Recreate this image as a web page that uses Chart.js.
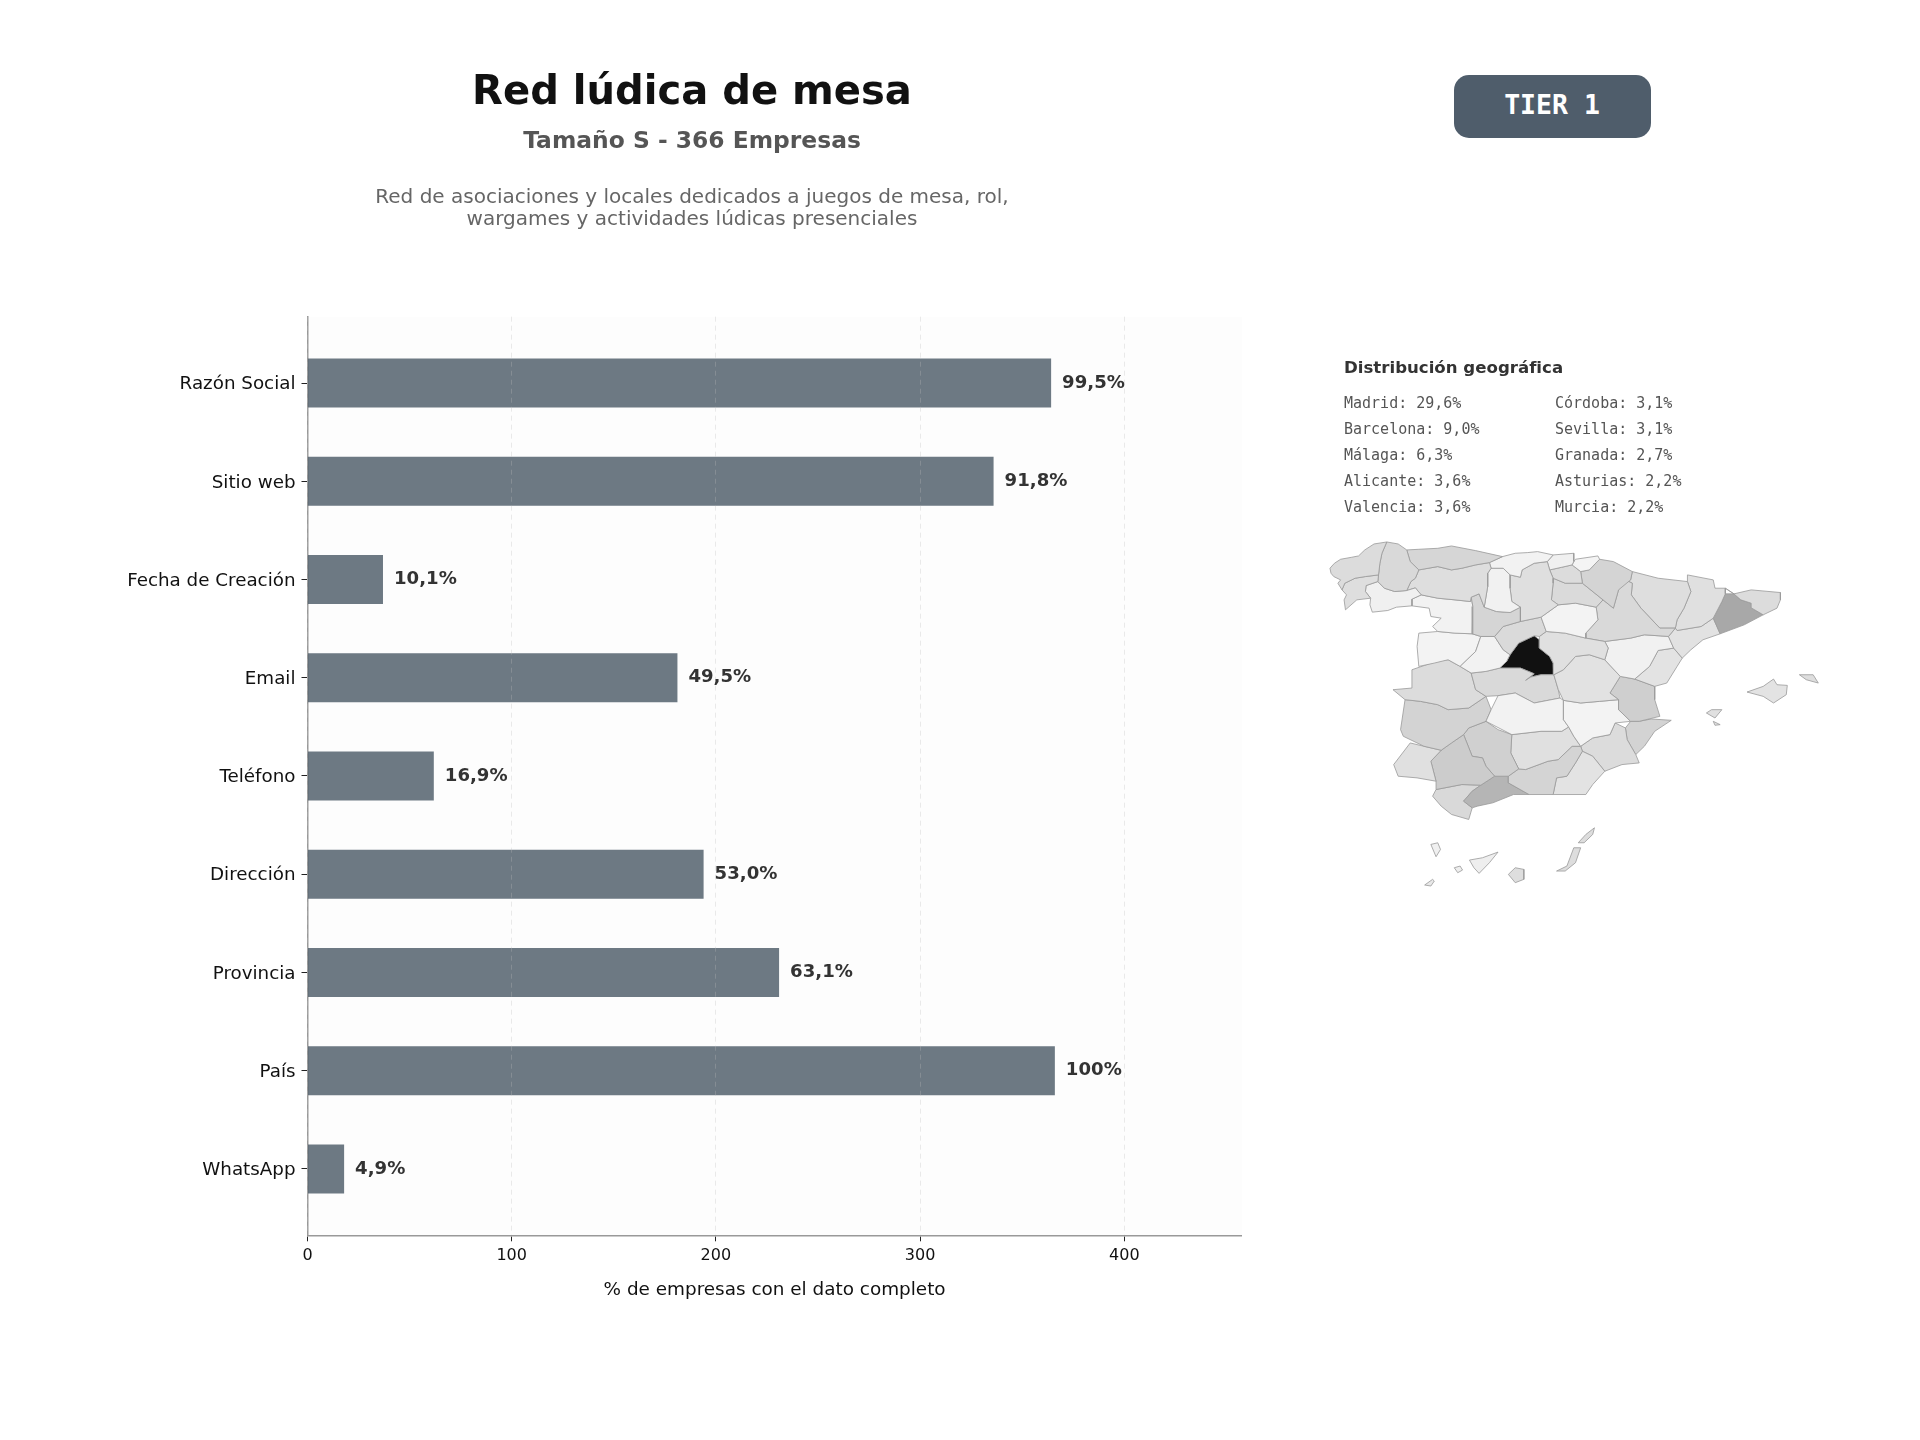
<!DOCTYPE html>
<html lang="es">
<head>
<meta charset="utf-8">
<title>Red lúdica de mesa</title>
<script src="https://cdn.jsdelivr.net/npm/chart.js@4"></script>
<style>
    html, body { margin: 0; padding: 0; background: #fff; }
    body { position: relative; width: 1920px; height: 1440px; overflow: hidden; font-family: "DejaVu Sans", sans-serif; }
    canvas { position: absolute; }
    .centered { position: absolute; white-space: nowrap; line-height: 1; transform: translate(-50%, -50%); }
    .left { position: absolute; white-space: nowrap; line-height: 1; transform: translateY(-50%); }
    #title { left: 692px; top: 90px; font-size: 40.1px; font-weight: bold; color: #111; }
    #subtitle { left: 692px; top: 141px; font-size: 23.4px; font-weight: bold; color: #555; }
    .description { left: 692px; font-size: 20px; color: #666; }
    #badge { position: absolute; left: 1453.5px; top: 75px; width: 197px; height: 63px; border-radius: 15px; background: #4f5d6b; }
    #badgeText { left: 1552px; top: 105px; font-family: "DejaVu Sans Mono", monospace; font-weight: bold; font-size: 26.5px; color: #fff; }
    #geoTitle { left: 1344px; top: 368px; font-size: 16.6px; font-weight: bold; color: #333; }
    .geoRow { font-family: "DejaVu Sans Mono", monospace; font-size: 15px; color: #555; }
    #barChart { left: 0; top: 0; }
    #mapChart { left: 1300px; top: 520px; }
</style>
</head>
<body>
<canvas id="barChart" width="1920" height="1440"></canvas>
<canvas id="mapChart" width="540" height="380"></canvas>
<div id="title" class="centered">Red lúdica de mesa</div>
<div id="subtitle" class="centered">Tamaño S - 366 Empresas</div>
<div class="centered description" style="top:195.5px">Red de asociaciones y locales dedicados a juegos de mesa, rol,</div>
<div class="centered description" style="top:218px">wargames y actividades lúdicas presenciales</div>
<div id="badge"></div>
<div id="badgeText" class="centered">TIER 1</div>
<div id="geoTitle" class="left">Distribución geográfica</div>
<script>
// Field completeness for the 366 companies
var totalCompanies = 366;
var fieldNames = ['Razón Social', 'Sitio web', 'Fecha de Creación', 'Email', 'Teléfono', 'Dirección', 'Provincia', 'País', 'WhatsApp'];
var fieldPercents = [99.5, 91.8, 10.1, 49.5, 16.9, 53.0, 63.1, 100, 4.9];
var xTicks = [0, 100, 200, 300, 400];

// Top provinces, two columns
var geoLeft = ['Madrid: 29,6%', 'Barcelona: 9,0%', 'Málaga: 6,3%', 'Alicante: 3,6%', 'Valencia: 3,6%'];
var geoRight = ['Córdoba: 3,1%', 'Sevilla: 3,1%', 'Granada: 2,7%', 'Asturias: 2,2%', 'Murcia: 2,2%'];

// Province outlines in map units, and the grey each one is shaded with
var provinceNames = ['Coruña', 'Pontevedra', 'Lugo', 'Ourense', 'Asturias', 'León', 'Cantabria', 'Palencia', 'Valladolid', 'Zamora', 'Burgos', 'Bizkaia', 'Gipuzkoa', 'Álava', 'Navarra', 'La Rioja', 'Soria', 'Segovia', 'Ávila', 'Salamanca', 'Guadalajara', 'Zaragoza', 'Huesca', 'Lleida', 'Girona', 'Barcelona', 'Tarragona', 'Teruel', 'Castellón', 'Cuenca', 'Valencia', 'Albacete', 'Ciudad Real', 'Toledo', 'Cáceres', 'Badajoz', 'Huelva', 'Sevilla', 'Córdoba', 'Jaén', 'Granada', 'Almería', 'Murcia', 'Alicante', 'Málaga', 'Cádiz', 'Madrid', 'Mallorca', 'Menorca', 'Ibiza', 'Formentera', 'La Palma', 'El Hierro', 'La Gomera', 'Tenerife', 'Gran Canaria', 'Fuerteventura', 'Lanzarote'];
var provinceGreys = ['#dcdcdc', '#dedede', '#d9d9d9', '#f0f0f0', '#d6d6d6', '#dedede', '#f2f2f2', '#f1f1f1', '#d5d5d5', '#f2f2f2', '#dfdfdf', '#f0f0f0', '#f4f4f4', '#dcdcdc', '#d4d4d4', '#dadada', '#f3f3f3', '#dadada', '#f2f2f2', '#f3f3f3', '#e0e0e0', '#d9d9d9', '#dedede', '#e0e0e0', '#dcdcdc', '#a8a8a8', '#e2e2e2', '#f1f1f1', '#e3e3e3', '#e2e2e2', '#cfcfcf', '#f3f3f3', '#f2f2f2', '#d9d9d9', '#dcdcdc', '#d3d3d3', '#e0e0e0', '#cccccc', '#d0d0d0', '#e0e0e0', '#d4d4d4', '#e3e3e3', '#dcdcdc', '#d3d3d3', '#b5b5b5', '#d9d9d9', '#111111', '#e3e3e3', '#dedede', '#e0e0e0', '#e0e0e0', '#f0f0f0', '#e8e8e8', '#eeeeee', '#eeeeee', '#dedede', '#dddddd', '#dddddd'];
var provinceOutlines = [
    [[87,145],[100,130],[118,118],[150,112],[170,108],[188,90],[215,72],[252,66],[238,100],[232,130],[228,165],[190,170],[160,175],[130,190],[122,210],[110,190],[118,180],[98,170],[90,160]],
    [[122,210],[130,190],[160,175],[190,170],[228,165],[226,185],[192,197],[190,215],[205,235],[165,240],[132,270],[128,240],[135,225]],
    [[252,66],[285,72],[310,90],[320,125],[345,150],[335,175],[322,185],[310,212],[275,215],[245,205],[226,185],[228,165],[232,130],[238,100]],
    [[192,197],[226,185],[245,205],[275,215],[310,212],[335,204],[352,225],[325,238],[325,258],[280,262],[255,272],[210,277],[203,255],[205,235],[190,215]],
    [[310,90],[345,88],[400,85],[440,78],[510,92],[588,110],[550,128],[510,135],[470,145],[440,150],[400,140],[345,150],[320,125]],
    [[345,150],[400,140],[440,150],[470,145],[510,135],[550,128],[555,145],[545,160],[545,200],[535,262],[520,222],[497,232],[495,245],[450,240],[400,235],[352,225],[335,204],[310,212],[322,185],[335,175]],
    [[588,110],[625,100],[660,98],[690,95],[735,105],[718,125],[680,130],[645,150],[640,172],[610,165],[590,145],[555,145],[550,128]],
    [[555,145],[590,145],[610,165],[610,205],[615,245],[640,262],[610,278],[570,275],[535,262],[545,200],[545,160]],
    [[497,232],[520,222],[535,262],[570,275],[610,278],[640,262],[640,305],[590,320],[565,350],[525,350],[500,342],[502,260]],
    [[325,238],[352,225],[400,235],[450,240],[495,245],[497,232],[502,260],[500,342],[450,340],[400,335],[385,320],[410,295],[380,290],[375,265],[325,258]],
    [[610,165],[640,172],[645,150],[680,130],[718,125],[725,150],[735,175],[735,190],[730,240],[750,255],[700,292],[640,305],[640,262],[615,245],[610,205]],
    [[735,105],[795,100],[795,125],[790,135],[760,142],[725,150],[718,125]],
    [[795,125],[800,118],[865,108],[870,118],[840,150],[815,155],[790,135]],
    [[725,150],[760,142],[790,135],[815,155],[820,190],[770,190],[735,175]],
    [[870,118],[910,125],[965,155],[960,180],[925,210],[910,265],[880,240],[820,190],[815,155],[840,150]],
    [[735,175],[770,190],[820,190],[880,240],[860,262],[800,250],[750,255],[730,240],[735,190]],
    [[700,292],[750,255],[800,250],[860,262],[865,300],[830,340],[830,355],[770,340],[715,335]],
    [[590,320],[640,305],[700,292],[715,335],[695,350],[680,348],[635,370],[610,405],[590,390],[565,350]],
    [[525,350],[565,350],[590,390],[610,405],[600,425],[580,445],[540,455],[497,460],[465,440],[510,395]],
    [[345,340],[400,335],[450,340],[500,342],[525,350],[510,395],[465,440],[430,420],[390,430],[345,440],[340,380]],
    [[715,335],[770,340],[830,355],[885,365],[895,385],[885,420],[840,405],[800,410],[765,450],[737,465],[735,430],[725,410],[695,385],[695,350]],
    [[925,210],[945,180],[965,190],[962,225],[990,265],[1045,325],[1090,325],[1070,350],[1000,345],[960,355],[885,365],[830,355],[830,340],[865,300],[860,262],[880,240],[910,265]],
    [[965,155],[1040,175],[1125,185],[1135,215],[1115,265],[1095,300],[1090,325],[1045,325],[990,265],[962,225],[965,190],[945,180],[925,210],[960,180]],
    [[1125,165],[1200,180],[1205,205],[1235,205],[1235,222],[1225,245],[1200,295],[1165,320],[1095,332],[1090,325],[1095,300],[1115,265],[1135,215],[1125,185]],
    [[1235,205],[1260,222],[1310,210],[1395,218],[1395,240],[1385,265],[1345,285],[1312,265],[1310,250],[1280,240],[1260,222]],
    [[1235,222],[1260,222],[1280,240],[1310,250],[1312,265],[1345,285],[1290,315],[1220,342],[1200,295],[1225,245]],
    [[1095,332],[1165,320],[1200,295],[1220,342],[1170,360],[1135,390],[1110,415],[1085,385],[1070,350],[1090,325]],
    [[960,355],[1000,345],[1070,350],[1085,385],[1040,392],[1015,440],[972,478],[930,470],[885,420],[895,385],[885,365]],
    [[1040,392],[1085,385],[1110,415],[1095,440],[1065,490],[1030,500],[972,478],[1015,440]],
    [[765,450],[800,410],[840,405],[885,420],[930,470],[900,520],[925,540],[870,545],[815,550],[765,542],[750,510],[737,465]],
    [[930,470],[972,478],[1030,500],[1030,540],[1045,590],[985,605],[960,605],[925,570],[925,540],[900,520]],
    [[765,542],[815,550],[870,545],[925,540],[925,570],[960,605],[915,610],[900,645],[850,655],[815,680],[795,650],[780,622],[765,600]],
    [[575,528],[625,520],[680,550],[755,535],[765,542],[765,600],[780,622],[760,635],[700,635],[615,645],[540,605],[555,570]],
    [[497,460],[540,455],[580,445],[640,445],[680,462],[655,482],[670,472],[700,465],[737,465],[750,510],[755,535],[680,550],[625,520],[575,528],[540,530],[510,510]],
    [[325,450],[395,425],[430,420],[465,440],[497,460],[510,510],[540,530],[490,565],[430,570],[400,555],[350,545],[305,540],[270,510],[325,505]],
    [[305,540],[350,545],[400,555],[430,570],[490,565],[540,530],[555,570],[540,605],[490,625],[475,645],[440,670],[410,692],[360,680],[300,650],[292,630]],
    [[320,670],[360,680],[410,692],[380,725],[395,785],[340,775],[285,770],[272,735]],
    [[440,670],[475,645],[500,710],[530,715],[540,740],[565,770],[525,797],[470,795],[395,810],[395,785],[380,725],[410,692]],
    [[475,645],[490,625],[540,605],[575,630],[615,645],[612,700],[635,748],[605,770],[565,770],[540,740],[530,715],[500,710]],
    [[615,645],[700,635],[760,635],[780,622],[795,650],[815,680],[790,680],[750,720],[720,725],[655,750],[635,748],[612,700]],
    [[635,748],[655,750],[720,725],[750,720],[790,680],[815,680],[820,695],[800,730],[775,770],[745,775],[735,825],[665,825],[605,790],[605,770]],
    [[820,695],[850,710],[885,755],[850,795],[830,825],[735,825],[745,775],[775,770],[800,730]],
    [[815,680],[850,655],[900,645],[915,610],[945,625],[950,660],[975,705],[985,730],[935,735],[885,755],[850,710],[820,695]],
    [[960,605],[985,605],[1020,598],[1078,602],[1030,635],[1000,680],[975,705],[950,660],[945,625]],
    [[525,797],[565,770],[605,770],[605,790],[665,825],[620,825],[560,850],[515,860],[500,865],[475,845],[500,815]],
    [[395,810],[470,795],[525,797],[500,815],[475,845],[500,865],[490,900],[440,885],[410,860],[385,830]],
    [[680,348],[695,360],[695,385],[725,410],[735,430],[737,465],[700,465],[670,472],[655,482],[680,462],[640,445],[580,445],[600,425],[610,405],[635,370]],
    [[1298,517],[1345,500],[1375,478],[1385,495],[1415,497],[1412,525],[1375,550],[1345,530]],
    [[1450,465],[1490,465],[1505,490],[1470,480]],
    [[1180,580],[1195,570],[1225,570],[1205,595]],
    [[1200,605],[1220,615],[1205,617]],
    [[380,975],[400,970],[408,990],[395,1012]],
    [[362,1097],[385,1080],[390,1085],[380,1100]],
    [[448,1045],[465,1040],[472,1052],[458,1060]],
    [[492,1022],[530,1015],[575,998],[550,1030],[520,1062],[505,1045]],
    [[605,1065],[625,1045],[650,1050],[650,1080],[625,1090]],
    [[745,1055],[775,1040],[795,985],[815,985],[800,1030],[770,1055]],
    [[808,970],[830,945],[855,925],[850,945],[825,970]]
];

// 99.5 -> "99,5%", but a full bar reads "100%"
function formatPercent(p) {
    return p === 100 ? '100%' : p.toFixed(1).replace('.', ',') + '%';
}

// Legend rows under the heading
function addGeoRows(rows, left) {
    rows.forEach(function (text, i) {
        var row = document.createElement('div');
        row.className = 'left geoRow';
        row.style.left = left + 'px';
        row.style.top = (403 + i * 26) + 'px';
        row.textContent = text;
        document.body.appendChild(row);
    });
}
addGeoRows(geoLeft, 1344);
addGeoRows(geoRight, 1555);

// Very faint panel behind the bars
var plotBackground = {
    id: 'plotBackground',
    beforeDraw: function (chart) {
        var a = chart.chartArea;
        chart.ctx.save();
        chart.ctx.fillStyle = '#fdfdfd';
        chart.ctx.fillRect(a.left, a.top, a.right - a.left, a.bottom - a.top);
        chart.ctx.restore();
    }
};

// Percentage next to the end of each bar
var barValueLabels = {
    id: 'barValueLabels',
    afterDatasetsDraw: function (chart) {
        var ctx = chart.ctx;
        ctx.save();
        ctx.font = 'bold 18.1px "DejaVu Sans"';
        ctx.fillStyle = '#333';
        ctx.textBaseline = 'middle';
        chart.getDatasetMeta(0).data.forEach(function (bar, i) {
            ctx.fillText(formatPercent(fieldPercents[i]), bar.x + 11, bar.y);
        });
        ctx.restore();
    }
};

new Chart(document.getElementById('barChart'), {
    type: 'bar',
    data: {
        datasets: [{
            data: fieldPercents.map(function (p, i) { return { x: p * totalCompanies / 100, y: i }; }),
            backgroundColor: 'rgba(72, 88, 100, 0.8)',
            barPercentage: 0.5,
            categoryPercentage: 1
        }]
    },
    plugins: [plotBackground, barValueLabels],
    options: {
        indexAxis: 'y',
        responsive: false,
        animation: false,
        events: [],
        layout: { padding: { left: 0, top: 316.7, right: 678.3, bottom: 138.7 } },
        scales: {
            x: {
                type: 'linear',
                min: 0,
                max: 457.5,
                afterBuildTicks: function (scale) {
                    scale.ticks = xTicks.map(function (v) { return { value: v }; });
                },
                afterFit: function (scale) { scale.height = 66; },
                ticks: { color: '#111', font: { family: '"DejaVu Sans"', size: 16 }, padding: 5, maxRotation: 0, includeBounds: false },
                // grid sits above the bars so the dashes show faintly across them
                grid: { color: 'rgba(190, 190, 190, 0.3)', lineWidth: 1, tickColor: '#222', tickLength: 6, tickBorderDash: [], z: 1 },
                border: { color: '#999', width: 1.5, dash: [5, 4], z: 2 },
                title: {
                    display: true,
                    text: '% de empresas con el dato completo',
                    color: '#111',
                    font: { family: '"DejaVu Sans"', size: 18.4 },
                    padding: 0
                }
            },
            y: {
                type: 'linear',
                reverse: true,
                offset: false,
                min: -0.675,
                max: 8.675,
                afterBuildTicks: function (scale) {
                    scale.ticks = fieldNames.map(function (name, i) { return { value: i }; });
                },
                afterFit: function (scale) { scale.width = 307.5; },
                ticks: {
                    color: '#111',
                    font: { family: '"DejaVu Sans"', size: 18.3 },
                    padding: 6,
                    labelOffset: 1.5,
                    autoSkip: false,
                    callback: function (value) { return fieldNames[value]; }
                },
                grid: { offset: false, drawOnChartArea: false, tickColor: '#222', tickLength: 6 },
                border: { color: '#999', width: 1.5 }
            }
        },
        plugins: { legend: { display: false }, tooltip: { enabled: false }, title: { display: false } }
    }
});

// Choropleth of Spain as closed line shapes
new Chart(document.getElementById('mapChart'), {
    type: 'scatter',
    data: {
        datasets: provinceOutlines.map(function (outline, i) {
            return {
                label: provinceNames[i],
                data: outline.concat([outline[0]]).map(function (p) { return { x: p[0], y: p[1] }; }),
                showLine: true,
                fill: 'shape',
                backgroundColor: provinceGreys[i],
                borderColor: '#999',
                borderWidth: 0.8,
                pointRadius: 0,
                tension: 0
            };
        })
    },
    options: {
        responsive: false,
        animation: false,
        events: [],
        layout: { padding: 0 },
        scales: {
            x: { type: 'linear', min: 0, max: 1568, display: false },
            y: { type: 'linear', min: 0, max: 1142, reverse: true, display: false }
        },
        plugins: { legend: { display: false }, tooltip: { enabled: false }, title: { display: false } }
    }
});
</script>
</body>
</html>
